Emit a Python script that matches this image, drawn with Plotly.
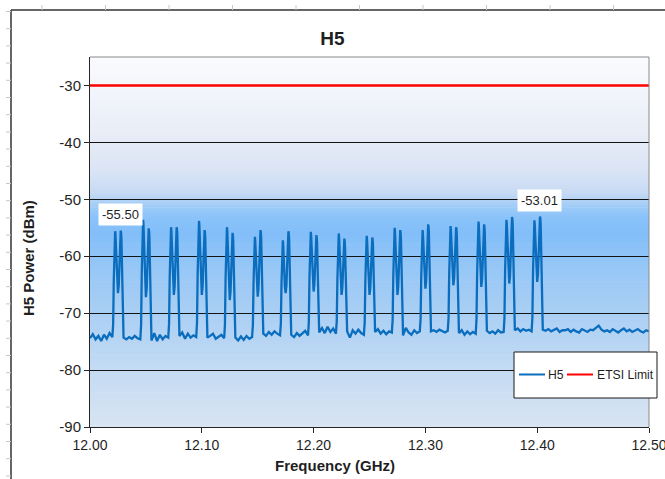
import plotly.graph_objects as go

# ---------------- data ----------------
freq_range_ghz = [12.00, 12.50]
power_range_dbm = [-90, -25]
etsi_limit_dbm = -30.0
x_tick_vals = [12.00, 12.10, 12.20, 12.30, 12.40, 12.50]
x_tick_text = ["12.00", "12.10", "12.20", "12.30", "12.40", "12.50"]
y_tick_vals = [-90, -80, -70, -60, -50, -40, -30]
y_tick_text = ["-90", "-80", "-70", "-60", "-50", "-40", "-30"]

# 16 double-peaked bursts of the H5 trace
burst_center_ghz = [12.025, 12.050, 12.075, 12.100, 12.125, 12.150, 12.175, 12.200,
                    12.225, 12.250, 12.275, 12.300, 12.325, 12.350, 12.375, 12.400]
burst_peak_left_dbm = [-55.6, -53.6, -54.9, -53.8, -54.9, -56.6, -57.2, -55.7,
                       -56.0, -56.4, -55.0, -55.4, -54.7, -53.9, -53.6, -53.7]
burst_peak_right_dbm = [-55.5, -55.1, -54.9, -55.4, -55.9, -55.4, -55.6, -56.3,
                        -56.9, -56.7, -55.4, -54.4, -54.9, -54.4, -53.1, -53.01]
burst_dip_dbm = [-66.5, -67.2, -66.8, -66.8, -67.7, -67.1, -66.5, -66.2,
                 -66.8, -66.8, -66.8, -65.7, -65.1, -65.4, -64.8, -64.5]

# noise floor sampled every 2.5 MHz (None = covered by a burst)
floor_freq_ghz = [round(12.0 + 0.0025 * i, 4) for i in range(201)]
floor_dbm = [
    -74.4, -73.7, -74.6, -74.0, -74.9, -73.8, -74.5, -73.5, -74.2, None,
    None, None, -74.3, -74.6, -74.2, -74.5, -74.0, -74.4, -74.6, None,
    None, None, -74.8, -73.5, -74.9, -73.8, -74.6, -74.0, -74.3, None,
    None, None, -74.0, -73.4, -74.5, -73.6, -74.3, -73.9, -74.2, None,
    None, None, -74.3, -74.0, -73.6, -74.5, -74.1, -73.8, -74.4, None,
    None, None, -74.3, -74.8, -74.1, -74.7, -74.0, -74.5, -74.2, None,
    None, None, -73.6, -74.0, -73.3, -73.8, -73.2, -73.6, -73.9, None,
    None, None, -73.8, -74.2, -73.5, -74.0, -73.6, -73.1, -73.9, None,
    None, None, -73.4, -72.6, -73.5, -72.4, -73.3, -72.7, -73.6, None,
    None, None, -73.2, -74.3, -73.0, -73.6, -72.9, -73.5, -73.8, None,
    None, None, -73.3, -72.8, -73.6, -73.1, -73.7, -73.2, -73.4, None,
    None, None, -73.9, -72.6, -73.4, -73.8, -73.0, -73.5, -73.2, None,
    None, None, -73.2, -73.0, -73.3, -72.9, -73.2, -73.4, -73.1, None,
    None, None, -73.5, -73.0, -73.8, -73.2, -73.7, -73.3, -73.6, None,
    None, None, -73.1, -73.5, -73.2, -73.6, -73.0, -73.4, -73.3, None,
    None, None, -73.0, -72.7, -73.2, -72.8, -73.1, -72.9, -73.2, None,
    None, None, -72.9, -73.1, -72.8, -73.2, -73.0, -72.7, -73.3, -73.0,
    -73.0, -72.8, -73.3, -72.9, -73.2, -73.4, -72.8, -73.1, -73.3, -72.9,
    -73.0, -72.6, -72.2, -72.9, -73.2, -73.0, -73.3, -72.8, -73.1, -73.4,
    -73.0, -72.7, -73.2, -72.9, -73.3, -73.1, -72.8, -73.2, -73.4, -73.0,
    -73.2,
]

# ---------------- styling / geometry ----------------
W, H = 665, 479
ML, MR, MT, MB = 90, 16, 57, 52
H5_COLOR = "#0B6DBE"
LIMIT_COLOR = "#FF0000"
FONT = "Liberation Sans, Arial, sans-serif"
TXT = "#1f1f1f"


def px_x(p):
    return (p - ML) / (W - ML - MR)


def px_y(p):
    return (H - MB - p) / (H - MT - MB)


def burst_shape(c, p1, p2, d, fl, fr):
    """Vertices of one double-peaked burst (shape of the analyser trace)."""
    left = [(-0.0048, fl + 0.7), (-0.0043, fl + 0.12 * (p1 - fl)),
            (-0.0037, fl + 0.55 * (p1 - fl)), (-0.0031, p1 - 1.4),
            (-0.0028, p1 - 0.4), (-0.0025, p1), (-0.0022, p1 - 0.7),
            (-0.0018, p1 - 3.0),
            (-0.0013, d + 0.45 * (p1 - d)), (-0.0007, d + 0.12 * (p1 - d))]
    right = [(0.0007, d + 0.12 * (p2 - d)), (0.0013, d + 0.45 * (p2 - d)),
             (0.0018, p2 - 3.0), (0.0022, p2 - 0.7), (0.0025, p2),
             (0.0028, p2 - 0.4), (0.0031, p2 - 1.4),
             (0.0037, fr + 0.55 * (p2 - fr)), (0.0043, fr + 0.12 * (p2 - fr)),
             (0.0048, fr + 0.7)]
    pts = left + [(0.0, d)] + right
    return [c + o for o, _ in pts], [v for _, v in pts]


# assemble the H5 trace
trace_x, trace_y = [], []
bi = 0
for i, (f, v) in enumerate(zip(floor_freq_ghz, floor_dbm)):
    if v is not None:
        trace_x.append(f)
        trace_y.append(v)
    elif bi < len(burst_center_ghz) and abs(f - burst_center_ghz[bi]) < 1e-6:
        bx, by = burst_shape(burst_center_ghz[bi], burst_peak_left_dbm[bi],
                             burst_peak_right_dbm[bi], burst_dip_dbm[bi],
                             floor_dbm[i - 2], floor_dbm[i + 2])
        trace_x += bx
        trace_y += by
        bi += 1

fig = go.Figure()
fig.add_trace(go.Scatter(x=trace_x, y=trace_y, mode="lines", name="H5",
                         line=dict(color=H5_COLOR, width=2.3), hoverinfo="skip"))
fig.add_trace(go.Scatter(x=freq_range_ghz, y=[etsi_limit_dbm, etsi_limit_dbm],
                         mode="lines", name="ETSI Limit",
                         line=dict(color=LIMIT_COLOR, width=2.5), hoverinfo="skip"))

shapes = []

# gradient background of the plot area
grad_stops = [(-90, (216, 228, 242)), (-80, (196, 219, 243)), (-70, (170, 207, 244)),
              (-62, (150, 199, 246)), (-56, (130, 190, 249)), (-53, (139, 195, 249)),
              (-50.5, (170, 208, 246)), (-49, (198, 218, 244)), (-45, (218, 228, 245)),
              (-40, (229, 235, 246)), (-33, (240, 243, 250)), (-25, (250, 251, 254))]


def grad_color(v):
    for (a, ca), (b, cb) in zip(grad_stops[:-1], grad_stops[1:]):
        if a <= v <= b:
            t = (v - a) / (b - a)
            c = [round(ca[k] + t * (cb[k] - ca[k])) for k in range(3)]
            return "rgb(%d,%d,%d)" % tuple(c)
    return "rgb(250,251,254)"


n_strips = 130
step = (power_range_dbm[1] - power_range_dbm[0]) / n_strips
for k in range(n_strips):
    y0 = power_range_dbm[0] + k * step
    shapes.append(dict(type="rect", xref="paper", yref="y", x0=0, x1=1,
                       y0=y0, y1=min(y0 + step * 1.25, power_range_dbm[1]),
                       fillcolor=grad_color(y0 + step / 2), line=dict(width=0),
                       layer="below"))

# grey top / right border of plot area
shapes.append(dict(type="line", xref="paper", yref="paper", x0=0, x1=1, y0=1, y1=1,
                   line=dict(color="#8a8a8a", width=1), layer="above"))
shapes.append(dict(type="line", xref="paper", yref="paper", x0=1, x1=1, y0=0, y1=1,
                   line=dict(color="#8a8a8a", width=1), layer="above"))

# chart-area frame and sheet gridline stubs
shapes.append(dict(type="line", xref="paper", yref="paper", x0=px_x(11), x1=px_x(11),
                   y0=px_y(10), y1=px_y(H + 5), line=dict(color="#333333", width=1.5)))
shapes.append(dict(type="line", xref="paper", yref="paper", x0=px_x(11), x1=px_x(W + 5),
                   y0=px_y(10), y1=px_y(10), line=dict(color="#333333", width=1.5)))
for xp in [42, 105.5, 169, 232.5, 296, 359.5, 423, 486.5, 550, 613.5]:
    shapes.append(dict(type="line", xref="paper", yref="paper", x0=px_x(xp), x1=px_x(xp),
                       y0=px_y(5), y1=px_y(10), line=dict(color="#c8c8c8", width=1)))
yp = 11.5
while yp < H:
    shapes.append(dict(type="line", xref="paper", yref="paper", x0=px_x(6), x1=px_x(11),
                       y0=px_y(yp), y1=px_y(yp), line=dict(color="#c8c8c8", width=1)))
    yp += 17.2

# legend box
shapes.append(dict(type="rect", xref="paper", yref="paper", x0=px_x(514), x1=px_x(657),
                   y0=px_y(398), y1=px_y(352), fillcolor="white",
                   line=dict(color="#1a1a1a", width=1), layer="above"))
shapes.append(dict(type="line", xref="paper", yref="paper", x0=px_x(519), x1=px_x(545),
                   y0=px_y(374.5), y1=px_y(374.5), line=dict(color=H5_COLOR, width=2),
                   layer="above"))
shapes.append(dict(type="line", xref="paper", yref="paper", x0=px_x(567), x1=px_x(593),
                   y0=px_y(374.5), y1=px_y(374.5), line=dict(color=LIMIT_COLOR, width=2),
                   layer="above"))

annotations = [
    dict(text="H5", xref="paper", yref="paper", x=px_x(545.5), y=px_y(374.5),
         xanchor="left", yanchor="middle", showarrow=False,
         font=dict(family=FONT, size=12.2, color=TXT)),
    dict(text="ETSI Limit", xref="paper", yref="paper", x=px_x(594.5), y=px_y(374.5),
         xanchor="left", yanchor="middle", showarrow=False,
         font=dict(family=FONT, size=12.2, color=TXT)),
    dict(text="Frequency (GHz)", xref="paper", yref="paper", x=px_x(335), y=px_y(465),
         xanchor="center", yanchor="middle", showarrow=False,
         font=dict(family=FONT, size=15, color=TXT, weight="bold")),
    dict(text="H5 Power (dBm)", xref="paper", yref="paper", x=px_x(28), y=px_y(258),
         xanchor="center", yanchor="middle", showarrow=False, textangle=-90,
         font=dict(family=FONT, size=15, color=TXT, weight="bold")),
]

# value labels on the first and last burst
for bi in (0, len(burst_center_ghz) - 1):
    p1, p2 = burst_peak_left_dbm[bi], burst_peak_right_dbm[bi]
    if p2 >= p1:
        fx, fv = burst_center_ghz[bi] + 0.0025, p2
    else:
        fx, fv = burst_center_ghz[bi] - 0.0025, p1
    annotations.append(dict(text="%.2f" % fv, x=fx, y=fv, xref="x", yref="y",
                            showarrow=False, yshift=16, bgcolor="white", borderpad=3,
                            font=dict(family=FONT, size=13, color=TXT)))

fig.update_layout(
    width=W, height=H,
    margin=dict(l=ML, r=MR, t=MT, b=MB, autoexpand=False),
    paper_bgcolor="white", plot_bgcolor="rgba(0,0,0,0)",
    showlegend=False,
    font=dict(family=FONT, color=TXT),
    title=dict(text="H5", x=0.5, xref="container", xanchor="center",
               y=1 - 38.5 / H, yanchor="middle",
               font=dict(family=FONT, size=19, color=TXT, weight="bold")),
    shapes=shapes,
    annotations=annotations,
    xaxis=dict(range=freq_range_ghz, tickvals=x_tick_vals, ticktext=x_tick_text,
               ticks="outside", ticklen=5, tickcolor="#262626", showline=True,
               linecolor="#262626", linewidth=1, showgrid=False, zeroline=False,
               ticklabeloverflow="allow", automargin=False,
               tickfont=dict(family=FONT, size=14, color=TXT)),
    yaxis=dict(range=power_range_dbm, tickvals=y_tick_vals, ticktext=y_tick_text,
               ticks="outside", ticklen=5, tickcolor="#262626", showline=True,
               linecolor="#262626", linewidth=1, showgrid=True, gridcolor="#141414",
               gridwidth=1, zeroline=False, automargin=False,
               tickfont=dict(family=FONT, size=15, color=TXT)),
)

fig.write_html("out.html")
